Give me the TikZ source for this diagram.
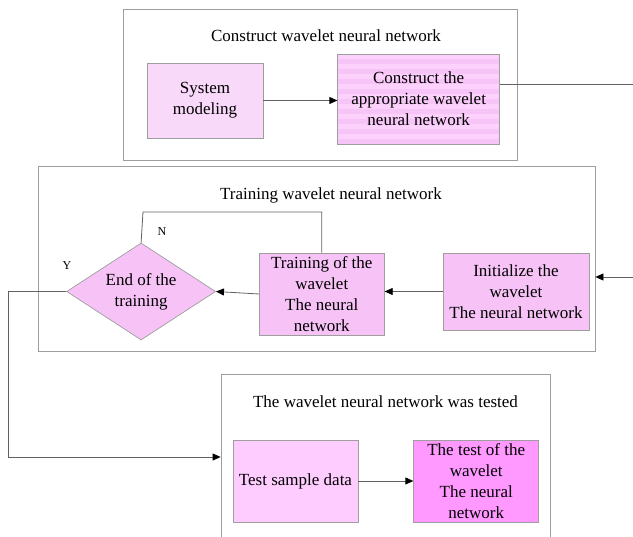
\documentclass[tikz,border=0pt]{standalone}
\usepackage{fontspec}
\setmainfont{Liberation Serif}
\usepackage{tikz}
\usetikzlibrary{positioning}
\usetikzlibrary{shapes.geometric}
\usetikzlibrary{arrows.meta}
\colorlet{Frame}{black!38}
\colorlet{Edge}{black!62}
\definecolor{PaleRose}{HTML}{F9D9F9}
\definecolor{StripeA}{HTML}{FCD2FC}
\definecolor{StripeB}{HTML}{F7C4F7}
\definecolor{Orchid}{HTML}{F7C3F7}
\definecolor{Candy}{HTML}{FFCCFF}
\definecolor{Magenta}{HTML}{FF99FF}

\tikzset{
  frame/.style={draw=Frame, line width=0.8pt, inner sep=0pt},
  stepbox/.style={draw=Frame, line width=0.7pt, align=center, inner sep=2pt,
    font=\fontsize{17}{21}\selectfont},
  title/.style={font=\fontsize{17}{21}\selectfont},
  flag/.style={font=\fontsize{12}{14}\selectfont},
  link/.style={draw=Edge, line width=0.8pt},
  arrow/.style={link, -{Triangle[length=8pt,width=7pt,color=black]}},
  stripes/.style={path picture={
      \foreach \k in {0,...,9}
        \fill[StripeB] (path picture bounding box.north west) ++(0,\k*10+5) rectangle ++(200,5);
    }},
}

\begin{document}
\begin{tikzpicture}[x=1pt,y=-1pt]
        \useasboundingbox (0,0) rectangle (633,537);
        \clip (0,0) rectangle (633,537);

        % group frames and their headings
        \node[frame, minimum width=394pt, minimum height=151pt] (BuildFrame) at (320,84.5) {};
        \node[frame, minimum width=557pt, minimum height=185pt] (TrainFrame) at (316.5,258.5) {};
        \node[frame, minimum width=329pt, minimum height=180pt] (TestFrame) at (385.5,464) {};
        \node[title] (BuildTitle) at (326,36) {Construct wavelet neural network};
        \node[title] (TrainTitle) at (331,195) {Training wavelet neural network};
        \node[title] (TestTitle) at (385.5,402) {The wavelet neural network was tested};

        % construct stage
        \node[stepbox, fill=PaleRose, minimum width=116pt, minimum height=75pt] (SysModel) at (205,100.5) {System\\modeling};
        \node[stepbox, fill=StripeA, stripes, minimum width=162pt, minimum height=90pt, right=74pt of SysModel, yshift=1.5pt] (BuildWNN) {Construct the\\appropriate wavelet\\neural network};

        % training stage
        \node[stepbox, fill=Orchid, minimum width=146pt, minimum height=77pt] (InitWNN) at (516,291.5) {Initialize the\\wavelet\\The neural network};
        \node[stepbox, fill=Orchid, minimum width=125pt, minimum height=82pt, left=58pt of InitWNN, yshift=-2.5pt] (TrainWNN) {Training of the\\wavelet\\The neural\\network};
        \node[stepbox, diamond, aspect=1.54, inner sep=0pt, fill=Orchid, minimum width=149pt, minimum height=97pt, left=43pt of TrainWNN, yshift=2.5pt] (EndTrain) {End of the\\training};

        % testing stage
        \node[stepbox, fill=Candy, minimum width=125pt, minimum height=82pt] (TestData) at (295.5,481) {Test sample data};
        \node[stepbox, fill=Magenta, minimum width=125pt, minimum height=82pt, right=55pt of TestData] (TestWNN) {The test of the\\wavelet\\The neural\\network};

        % branch labels
        \node[flag] (YesFlag) at (67,266) {Y};
        \node[flag] (NoFlag) at (162,232) {N};

        % bend points
        \coordinate (OutA) at (633,84);
        \coordinate (OutB) at (633,277);
        \coordinate (NoLoop) at (143,212);
        \coordinate (YesBend) at (8,457);

        % edges
        \draw[arrow] (SysModel.east) -- (SysModel.east -| BuildWNN.west);
        \draw[link] (BuildWNN.east |- OutA) -- (OutA);
        \draw[arrow] (OutB) -- (TrainFrame.east |- OutB);
        \draw[arrow] (InitWNN.west) -- (InitWNN.west -| TrainWNN.east);
        \draw[arrow] (TrainWNN.west) -- (EndTrain.east);
        \draw[link] (EndTrain.north) -- (NoLoop) -| (TrainWNN.north);
        \draw[arrow] (EndTrain.west) -| (YesBend) -- (TestFrame.west |- YesBend);
        \draw[arrow] (TestData.east) -- (TestWNN.west);
   \end{tikzpicture}
\end{document}
